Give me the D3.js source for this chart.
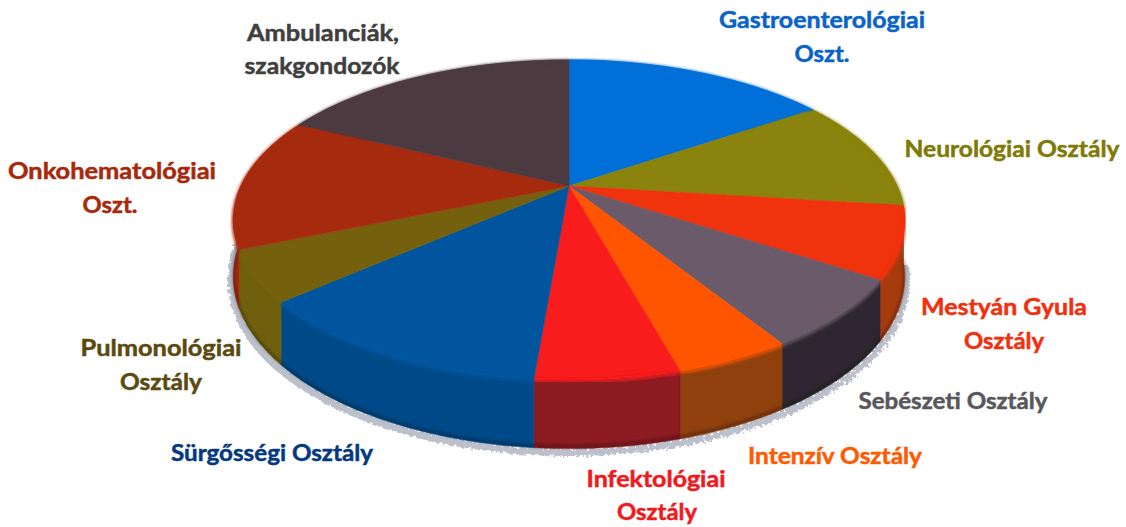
<!DOCTYPE html>
<html><head><meta charset="utf-8">
<script src="https://cdn.jsdelivr.net/npm/d3@7"></script>
<style>html,body{margin:0;padding:0;background:#fff}svg{display:block}</style>
</head><body><svg id="c" width="1126" height="527"></svg>
<script>
const departments = ["Gastroenterológiai Oszt.","Neurológiai Osztály","Mestyán Gyula Osztály","Sebészeti Osztály","Intenzív Osztály","Infektológiai Osztály","Sürgősségi Osztály","Pulmonológiai Osztály","Onkohematológiai Oszt.","Ambulanciák, szakgondozók"];
const shares = [15.6,11.4,7.2,6.9,4.6,5.7,12.3,5.1,13.5,17.8];
const topColors = ["#0070d8","#8a8308","#f0300e","#6a5a6a","#ff5500","#f81a1c","#00559e","#75600a","#a62a10","#4c3a40"];
const wallColors = ["#00509a","#5e5a10","#a83a10","#2e2830","#8f4010","#8c1a22","#004a88","#70600c","#a02a10","#33282c"];
const labelLines = [
 [["Gastroenterológiai",822,28,206],["Oszt.",822,62,55]],
 [["Neurológiai Osztály",1012,157,215]],
 [["Mestyán Gyula",1004,315,166],["Osztály",1004,349,80]],
 [["Sebészeti Osztály",953,409,189]],
 [["Intenzív Osztály",835,464,174]],
 [["Infektológiai",656,487,139],["Osztály",657,520,80]],
 [["Sürgősségi Osztály",272,461,202]],
 [["Pulmonológiai",161,356,161],["Osztály",161,390,82]],
 [["Onkohematológiai",112,179,208],["Oszt.",110,213,55]],
 [["Ambulanciák,",323,41,152],["szakgondozók",322,74,155]]
];
const labelColors = ["#0a63c8","#7f7a08","#f0300e","#58585c","#ff5a00","#f01a1e","#04397f","#5a4a10","#a8280c","#3f3f3f"];

const svg = d3.select("#c");
const cx = 569, cy = 186, a = 328, h = 152.8, k = 0.2125, depth = 54;
const project = (ang, r = 1, z = 0) => {
  const u = r * Math.sin(ang), v = -r * Math.cos(ang), w = 1 - k * v;
  return [cx + a * u / w, cy + h * v / w + z * depth / w];
};
const arcPts = (s, e, z) => d3.range(0, 61).map(i => project(s + (e - s) * i / 60, 1, z));
const line = d3.line();
const slices = d3.pie().sort(null)(shares);
const defs = svg.append("defs");
const blurF = (id, sd) => defs.append("filter").attr("id", id).attr("x", "-5%").attr("y", "-5%").attr("width", "110%").attr("height", "110%").append("feGaussianBlur").attr("stdDeviation", sd);
blurF("soft", 0.7); blurF("soft2", 1.6);
const rough = defs.append("filter").attr("id", "rough").attr("x", "-5%").attr("y", "-5%").attr("width", "110%").attr("height", "110%");
rough.append("feTurbulence").attr("type", "fractalNoise").attr("baseFrequency", 0.3).attr("numOctaves", 2).attr("seed", 4).attr("result", "n");
rough.append("feDisplacementMap").attr("in", "SourceGraphic").attr("in2", "n").attr("scale", 8);

// rough grey shadow under the front rim
const sa = Math.PI * 0.54, ea = Math.PI * 1.5;
svg.append("path").attr("d", line(arcPts(sa, ea, 1).map(p => [p[0] + (p[0] - cx) * 0.006, p[1] + 4])))
  .attr("fill", "none").attr("stroke", "#bcc0ca").attr("stroke-width", 7).attr("filter", "url(#rough)");

const pie = svg.append("g").attr("filter", "url(#soft)");
pie.selectAll("path.wall").data(slices).join("path").attr("class", "wall")
  .attr("d", d => line([...arcPts(d.startAngle, d.endAngle, 0), ...arcPts(d.startAngle, d.endAngle, 1).reverse()]) + "Z")
  .attr("fill", (d, i) => wallColors[i]).attr("stroke", (d, i) => wallColors[i]).attr("stroke-width", 0.6);
pie.append("path").attr("d", line(arcPts(sa, ea, 0.97))).attr("fill", "none").attr("stroke", "#000").attr("stroke-opacity", 0.3).attr("stroke-width", 3).attr("filter", "url(#soft2)");
pie.selectAll("path.top").data(slices).join("path").attr("class", "top")
  .attr("d", d => line([[cx, cy], ...arcPts(d.startAngle, d.endAngle, 0)]) + "Z")
  .attr("fill", (d, i) => topColors[i]).attr("stroke", (d, i) => topColors[i]).attr("stroke-width", 0.6);
pie.selectAll("path.rim").data(slices).join("path").attr("class", "rim")
  .attr("d", d => line(arcPts(d.startAngle, d.endAngle, 0.02)))
  .attr("fill", "none").attr("stroke", (d, i) => topColors[i]).attr("stroke-width", 3).attr("filter", "url(#soft2)");

const lab = svg.append("g").attr("font-family", "Lato,'Open Sans',sans-serif").attr("font-weight", 700).attr("font-size", 23).attr("text-anchor", "middle");
labelLines.forEach((lines, i) => {
  lab.selectAll(null).data(lines).join("text")
    .attr("x", d => d[1]).attr("y", d => d[2])
    .attr("textLength", d => d[3]).attr("lengthAdjust", "spacingAndGlyphs")
    .attr("fill", labelColors[i]).attr("stroke", labelColors[i]).attr("stroke-width", 0.5).text(d => d[0]);
});
</script></body></html>
